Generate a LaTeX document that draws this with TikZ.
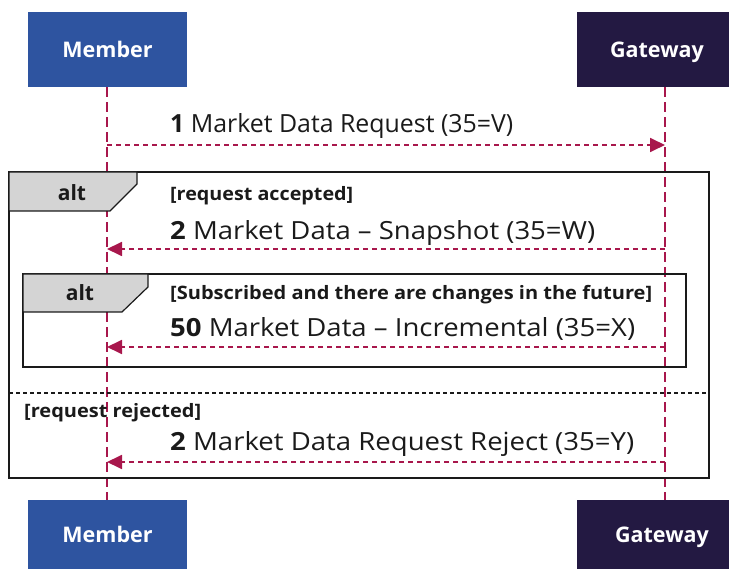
\documentclass[tikz,border=0pt]{standalone}
\usepackage{graphicx}
\usepackage{fontspec}
\setmainfont{Open Sans}
\usetikzlibrary{arrows.meta, positioning, calc}

\definecolor{memberblue}{HTML}{2E54A0}
\definecolor{gatewaypurple}{HTML}{231942}
\definecolor{lifered}{HTML}{A8174C}
\definecolor{tabgray}{HTML}{D4D4D4}
\definecolor{inkblack}{HTML}{1A1A1A}

% stretch a label to a given width, keeping its height
\newcommand{\fitwidth}[2]{\resizebox{#1}{\height}{#2}}

\begin{document}
\begin{tikzpicture}[x=1pt, y=-1pt,
  actorbox/.style={inner sep=0pt, text height=15.4pt, text depth=0pt, text=white, font=\fontsize{21.5}{26}\selectfont\bfseries},
  lifeline/.style={lifered, line width=1.8pt, dash pattern=on 10pt off 5pt},
  msg/.style={lifered, line width=1.8pt, dash pattern=on 5pt off 4pt, -{Triangle[length=15pt, width=14pt]}},
  msgtext/.style={anchor=base west, inner sep=0pt, text=inkblack, font=\fontsize{25}{30}\selectfont},
  guard/.style={anchor=base west, inner sep=0pt, text=inkblack, font=\fontsize{18.5}{22}\selectfont\bfseries},
  altframe/.style={draw=inkblack, line width=1.2pt},
  alttab/.style={draw=inkblack, fill=tabgray, line width=1.2pt},
  altlabel/.style={inner sep=0pt, text=inkblack, font=\fontsize{21}{25}\selectfont\bfseries}]

\useasboundingbox (0,0) rectangle (729,569);

% Participants
\node[actorbox, fill=memberblue, minimum width=159pt, minimum height=75pt] (member) at (107.5,49.5) {Member};
\node[actorbox, fill=gatewaypurple, minimum width=160pt, minimum height=75pt] (gateway) at (657,49.5) {Gateway};
\node[actorbox, fill=memberblue, minimum width=159pt, minimum height=69pt] (memberB) at (107.5,534.5) {Member};
\node[actorbox, fill=gatewaypurple, minimum width=170pt, minimum height=69pt] (gatewayB) at (662,534.5) {Gateway};

% Lifelines
\coordinate (mline) at (107,0);
\coordinate (gline) at (665,0);
\draw[lifeline] (member.south -| mline) -- (memberB.north -| mline);
\draw[lifeline] (gateway.south -| gline) -- (gatewayB.north -| gline);

% Outer alt frame
\draw[altframe] (9,172) rectangle (709,478);
\draw[alttab] (9,172) -- (137,172) -- (137,184) -- (110,211) -- (9,211) -- cycle;
\node[altlabel] (altA) at (72,193) {alt};
\draw[inkblack, line width=1.2pt, dash pattern=on 4pt off 3pt] (9,393) -- (709,393);

% Inner alt frame
\draw[altframe] (23,274) rectangle (686,367);
\draw[alttab] (23,274) -- (148,274) -- (148,287) -- (122,312) -- (23,312) -- cycle;
\node[altlabel] (altB) at (80,293) {alt};

% Guards
\node[guard] (gA) at (170,200.5) {\fitwidth{183pt}{[request accepted]}};
\node[guard] (gB) at (170,299.5) {\fitwidth{482pt}{[Subscribed and there are changes in the future]}};
\node[guard] (gC) at (24,418) {\fitwidth{177pt}{[request rejected]}};

% Messages
\coordinate (m1) at (107,145); \coordinate (g1) at (665,145);
\coordinate (m2) at (107,249); \coordinate (g2) at (665,249);
\coordinate (m3) at (107,347); \coordinate (g3) at (665,347);
\coordinate (m4) at (107,462); \coordinate (g4) at (665,462);

\draw[msg] (m1) -- (g1);
\node[msgtext] (t1) at (170,133) {\fitwidth{343pt}{\textbf{1} Market Data Request (35=V)}};
\draw[msg] (g2) -- (m2);
\node[msgtext] (t2) at (170,240) {\fitwidth{425pt}{\textbf{2} Market Data – Snapshot (35=W)}};
\draw[msg] (g3) -- (m3);
\node[msgtext] (t3) at (170,336.5) {\fitwidth{465pt}{\textbf{50} Market Data – Incremental (35=X)}};
\draw[msg] (g4) -- (m4);
\node[msgtext] (t4) at (170,450) {\fitwidth{464pt}{\textbf{2} Market Data Request Reject (35=Y)}};

\end{tikzpicture}
\end{document}
